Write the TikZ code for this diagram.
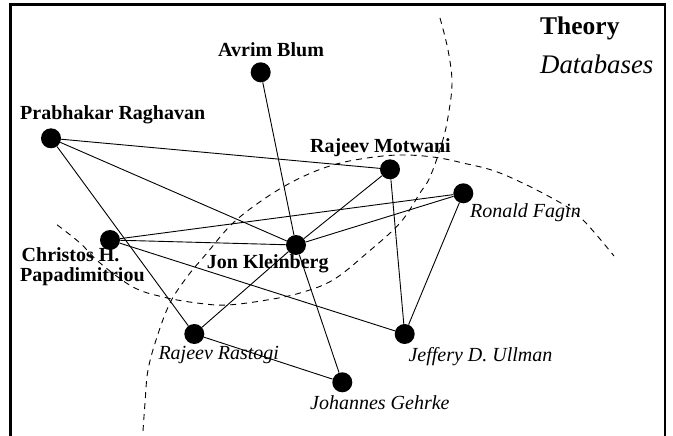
\documentclass[tikz,border=0pt]{standalone}
\usepackage{fontspec}
\setmainfont{Liberation Serif}
\begin{document}
\begin{tikzpicture}[x=1pt,y=-1pt,
  dot/.style={circle,fill=black,draw=none,minimum size=20pt,inner sep=0pt},
  edge/.style={line width=0.9pt,black},
  bnd/.style={line width=0.9pt,dashed,dash pattern=on 6pt off 5pt},
  blab/.style={anchor=base west,inner sep=0pt,font=\fontsize{20}{20}\selectfont\bfseries},
  ilab/.style={anchor=base west,inner sep=0pt,font=\fontsize{20}{20}\selectfont\itshape}]
\useasboundingbox (0,0) rectangle (673,436);
\draw[line width=2.6pt] (10.7,436) -- (10.7,4.3) -- (665,4.3) -- (665,436);
% research area boundaries
\draw[bnd] plot[smooth,tension=0.6] coordinates {(440,18) (448,50) (452,83) (448,117) (442,143) (430,177) (420,193) (400,223) (367,253) (333,280) (300,293) (267,300) (227,305) (197,303) (163,297) (133,287) (100,263) (80,243) (56,224)};
\draw[bnd] plot[smooth,tension=0.6] coordinates {(143,431) (145,403) (148,370) (157,337) (170,303) (187,277) (207,253) (233,223) (267,197) (300,178) (333,165) (367,158) (400,155) (433,157) (463,163) (500,173) (550,197) (580,217) (614,256)};
% people
\node[dot] (avrim) at (260.7,72.3) {};
\node[dot] (prab) at (51,138.3) {};
\node[dot] (motw) at (390,169.3) {};
\node[dot] (fagin) at (463.3,193.3) {};
\node[dot] (chris) at (110,240) {};
\node[dot] (jon) at (296,245) {};
\node[dot] (rast) at (194.3,334) {};
\node[dot] (gehrke) at (342.3,382.3) {};
\node[dot] (ullman) at (404.7,334) {};
% labels
\node[blab] (lavrim) at (218,57) {Avrim Blum};
\node[blab] (lprab) at (20,120) {Prabhakar Raghavan};
\node[blab] (lmotw) at (310,152.7) {Rajeev Motwani};
\node[ilab] (lfagin) at (470,217.3) {Ronald Fagin};
\node[blab] (lchrisA) at (21.5,261.7) {Christos H.};
\node[blab] (lchrisB) at (20,281.7) {Papadimitriou};
\node[blab] (ljon) at (206.7,268.3) {Jon Kleinberg};
\node[ilab] (lrast) at (158.3,359.5) {Rajeev Rastogi};
\node[ilab] (lgehrke) at (310,409.3) {Johannes Gehrke};
\node[ilab] (lullman) at (408.3,361.7) {Jeffery D. Ullman};
\node[anchor=base west,inner sep=0pt,font=\fontsize{25.5}{25.5}\selectfont\bfseries] (theory) at (540,35) {Theory};
\node[anchor=base west,inner sep=0pt,font=\fontsize{26.8}{26.8}\selectfont\itshape] (db) at (540,73.3) {Databases};
% coauthorship edges
\draw[edge] (prab) -- (motw);
\draw[edge] (prab) -- (jon);
\draw[edge] (prab) -- (rast);
\draw[edge] (avrim) -- (jon);
\draw[edge] (jon) -- (gehrke);
\draw[edge] (motw) -- (jon);
\draw[edge] (motw) -- (ullman);
\draw[edge] (fagin) -- (chris);
\draw[edge] (fagin) -- (jon);
\draw[edge] (fagin) -- (ullman);
\draw[edge] (chris) -- (jon);
\draw[edge] (chris) -- (ullman);
\draw[edge] (jon) -- (rast);
\draw[edge] (rast) -- (gehrke);
\end{tikzpicture}
\end{document}
